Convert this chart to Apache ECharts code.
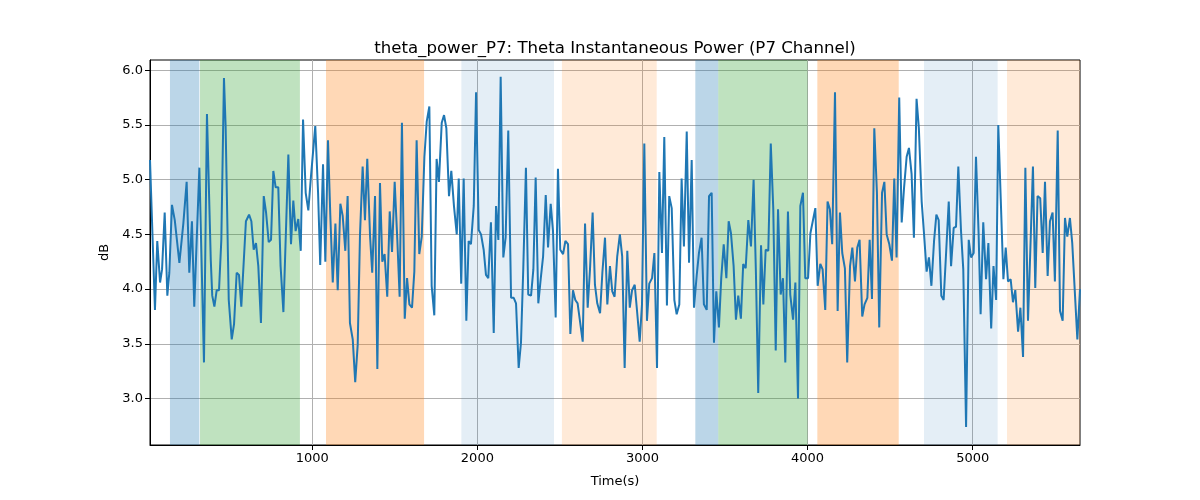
<!DOCTYPE html>
<html>
<head>
<meta charset="utf-8">
<script src="https://cdn.jsdelivr.net/npm/echarts@6/dist/echarts.min.js"></script>
<style>html,body{margin:0;padding:0;background:#fff}#c{width:1200px;height:500px}</style>
</head>
<body>
<div id="c"></div>
<script>
const times = [17,47,61,78,90,106,122,134,150,167,195,219,239,255,271,285,316,344,362,385,394,407,421,435,449,465,475,494,512,526,542,556,570,598,617,631,645,659,673,689,706,720,736,750,764,778,794,808,825,855,871,885,899,915,930,944,960,976,992,1018,1035,1048,1065,1079,1095,1109,1124,1140,1154,1170,1184,1200,1214,1228,1245,1260,1275,1289,1305,1319,1333,1350,1363,1380,1394,1410,1424,1438,1454,1469,1483,1499,1515,1529,1543,1560,1574,1588,1604,1618,1632,1648,1663,1679,1693,1709,1723,1739,1753,1767,1784,1798,1812,1828,1842,1858,1875,1887,1902,1917,1933,1947,1961,1978,1992,2008,2022,2038,2052,2066,2082,2099,2113,2127,2141,2157,2171,2187,2204,2220,2234,2250,2264,2278,2294,2308,2325,2339,2353,2369,2384,2398,2414,2428,2444,2458,2474,2488,2502,2519,2533,2549,2563,2579,2593,2607,2623,2638,2652,2668,2682,2698,2712,2726,2743,2757,2773,2787,2803,2817,2831,2847,2863,2877,2892,2908,2923,2937,2953,2967,2983,2997,3011,3027,3041,3058,3072,3088,3102,3118,3132,3148,3162,3177,3193,3207,3223,3237,3251,3268,3282,3298,3312,3328,3342,3358,3372,3389,3403,3419,3433,3447,3463,3477,3492,3508,3522,3536,3552,3566,3580,3596,3610,3625,3641,3657,3673,3687,3701,3718,3732,3746,3762,3777,3792,3807,3821,3837,3851,3865,3881,3895,3912,3926,3942,3956,3972,3986,4003,4017,4047,4061,4077,4091,4107,4121,4135,4149,4166,4182,4196,4210,4226,4240,4257,4271,4287,4301,4315,4331,4345,4362,4376,4390,4404,4420,4434,4451,4465,4479,4495,4511,4525,4539,4555,4570,4584,4600,4614,4630,4644,4660,4674,4691,4705,4721,4735,4750,4766,4780,4794,4810,4824,4840,4855,4869,4885,4899,4913,4929,4943,4960,4976,4990,5006,5020,5036,5048,5064,5081,5095,5112,5126,5142,5155,5170,5186,5200,5214,5230,5244,5258,5275,5289,5305,5319,5335,5349,5365,5379,5393,5409,5424,5438,5454,5468,5484,5498,5515,5529,5545,5559,5573,5589,5603,5634,5650];
const power = [5.18,3.81,4.44,4.06,4.18,4.70,3.94,4.15,4.77,4.63,4.24,4.60,4.98,4.15,4.62,3.84,5.11,3.33,5.60,4.27,3.94,3.84,3.99,3.99,4.45,5.93,5.49,3.90,3.54,3.68,4.15,4.13,3.84,4.62,4.68,4.62,4.36,4.42,4.21,3.69,4.85,4.70,4.43,4.45,5.08,4.93,4.93,4.21,3.79,5.23,4.41,4.81,4.53,4.64,4.35,5.55,4.88,4.72,5.03,5.49,4.88,4.22,5.14,4.25,5.36,4.68,4.06,4.60,3.99,4.78,4.67,4.35,4.85,3.69,3.54,3.15,3.49,4.50,5.12,4.63,5.19,4.48,4.15,4.85,3.27,4.97,4.25,4.32,3.93,4.71,4.34,4.98,4.45,3.93,5.52,3.73,4.10,3.86,3.83,4.16,5.36,4.32,4.48,5.21,5.53,5.67,4.03,3.76,5.19,4.98,5.52,5.59,5.47,4.85,5.08,4.76,4.50,5.01,4.05,5.01,3.71,4.44,4.41,4.76,5.80,4.54,4.50,4.36,4.13,4.10,4.61,3.60,4.76,4.45,5.94,4.29,4.47,5.45,3.92,3.92,3.87,3.28,3.51,4.19,5.11,3.95,3.94,4.18,5.02,3.87,4.10,4.30,4.86,4.38,4.78,4.53,3.74,5.10,4.36,4.32,4.44,4.41,3.59,3.99,3.90,3.87,3.69,3.52,4.60,3.83,4.18,4.70,4.04,3.87,3.78,4.15,4.47,3.86,4.21,3.98,3.93,4.30,4.50,4.30,3.28,4.35,3.83,3.99,4.04,3.80,3.52,3.86,5.33,3.71,4.05,4.10,4.33,3.28,5.07,4.33,5.39,3.85,4.85,4.74,3.90,3.77,3.86,5.01,4.39,5.44,4.24,5.18,3.83,4.12,4.33,4.47,3.86,3.81,4.85,4.88,3.51,3.98,3.65,4.10,4.41,4.10,4.62,4.51,4.21,3.72,3.94,3.73,4.23,4.19,4.63,4.39,5.00,4.15,3.05,4.40,3.86,4.36,4.35,5.33,4.74,3.44,4.73,3.95,4.10,3.33,4.71,3.95,3.72,4.06,3.00,4.76,4.88,4.10,4.10,4.51,4.74,4.03,4.23,4.18,3.81,4.80,4.73,4.41,5.80,3.80,4.70,4.33,4.19,3.33,4.21,4.38,4.07,4.38,4.45,3.75,3.86,3.92,4.45,3.91,5.47,4.88,3.65,4.88,4.98,4.50,4.41,4.26,5.01,4.29,5.75,4.61,4.92,5.21,5.29,5.05,4.47,5.74,5.47,4.80,4.51,4.16,4.29,4.03,4.44,4.68,4.63,3.94,3.90,4.36,4.80,4.21,4.56,4.57,5.12,4.54,4.18,2.74,4.45,4.29,4.33,5.21,4.50,3.77,4.61,4.09,4.42,3.64,4.21,3.90,5.50,4.82,4.09,4.38,4.07,4.09,3.88,3.99,3.61,3.83,3.38,5.11,3.71,4.35,5.12,4.01,4.85,4.83,4.33,4.98,4.12,4.62,4.70,4.07,5.45,3.80,3.71,4.65,4.48,4.65,4.42,3.54,4.00];

const bandStarts = [138, 320, 1083, 1903, 2512, 3320, 3459, 4059, 4705, 5208];
const bandEnds   = [316, 925, 1677, 2464, 3086, 3459, 4000, 4552, 5151, 5650];
const bandKinds  = ['blue','green','orange','lightblue','lightorange','blue','green','orange','lightblue','lightorange'];

const xTicks = [1000, 2000, 3000, 4000, 5000];
const yTicks = [3.0, 3.5, 4.0, 4.5, 5.0, 5.5, 6.0];

const bandColors = {
  blue: 'rgba(31,119,180,0.3)',
  green: 'rgba(44,160,44,0.3)',
  orange: 'rgba(255,127,14,0.3)',
  lightblue: 'rgba(31,119,180,0.12)',
  lightorange: 'rgba(255,127,14,0.16)'
};

const font = 'DejaVu Sans';
const chart = echarts.init(document.getElementById('c'), null, {renderer: 'canvas'});
const seriesData = times.map((t, i) => [t, power[i]]);
const areas = bandStarts.map((s, i) => [
  {xAxis: s, itemStyle: {color: bandColors[bandKinds[i]]}},
  {xAxis: bandEnds[i]}
]);

chart.setOption({
  animation: false,
  backgroundColor: '#fff',
  title: {
    text: 'theta_power_P7: Theta Instantaneous Power (P7 Channel)',
    left: 610, top: 35, textAlign: 'center',
    textStyle: {fontFamily: font, fontSize: 16.6, fontWeight: 'normal', color: '#000'}
  },
  grid: {left: 150, right: 120, top: 60, bottom: 55, show: true, borderColor: '#000', borderWidth: 1, backgroundColor: 'transparent'},
  xAxis: {
    type: 'value', min: 17, max: 5650,
    minInterval: 1000, maxInterval: 1000,
    name: 'Time(s)', nameLocation: 'middle', nameGap: 30,
    nameTextStyle: {fontFamily: font, fontSize: 13, color: '#000'},
    axisLine: {show: true, lineStyle: {color: '#000', width: 1}},
    axisTick: {show: true, inside: false, length: 5, lineStyle: {color: '#000'}, customValues: xTicks},
    axisLabel: {fontFamily: font, fontSize: 13, color: '#000', margin: 7, customValues: xTicks,
      formatter: v => String(Math.round(v))},
    splitLine: {show: true, lineStyle: {color: '#b0b0b0', width: 1}}
  },
  yAxis: {
    type: 'value', min: 2.575, max: 6.094,
    minInterval: 0.5, maxInterval: 0.5,
    name: 'dB', nameLocation: 'middle', nameGap: 38, nameRotate: 90,
    nameTextStyle: {fontFamily: font, fontSize: 13, color: '#000'},
    axisLine: {show: true, lineStyle: {color: '#000', width: 1}},
    axisTick: {show: true, inside: false, length: 5, lineStyle: {color: '#000'}, customValues: yTicks},
    axisLabel: {fontFamily: font, fontSize: 13, color: '#000', margin: 7, customValues: yTicks,
      formatter: v => Number(v).toFixed(1)},
    splitLine: {show: true, lineStyle: {color: '#b0b0b0', width: 1}}
  },
  series: [{
    type: 'line',
    data: seriesData,
    showSymbol: false,
    symbol: 'none',
    lineStyle: {color: '#1f77b4', width: 2},
    itemStyle: {color: '#1f77b4'},
    z: 3,
    markArea: {silent: true, data: areas, label: {show: false}}
  }]
});
</script>
</body>
</html>
